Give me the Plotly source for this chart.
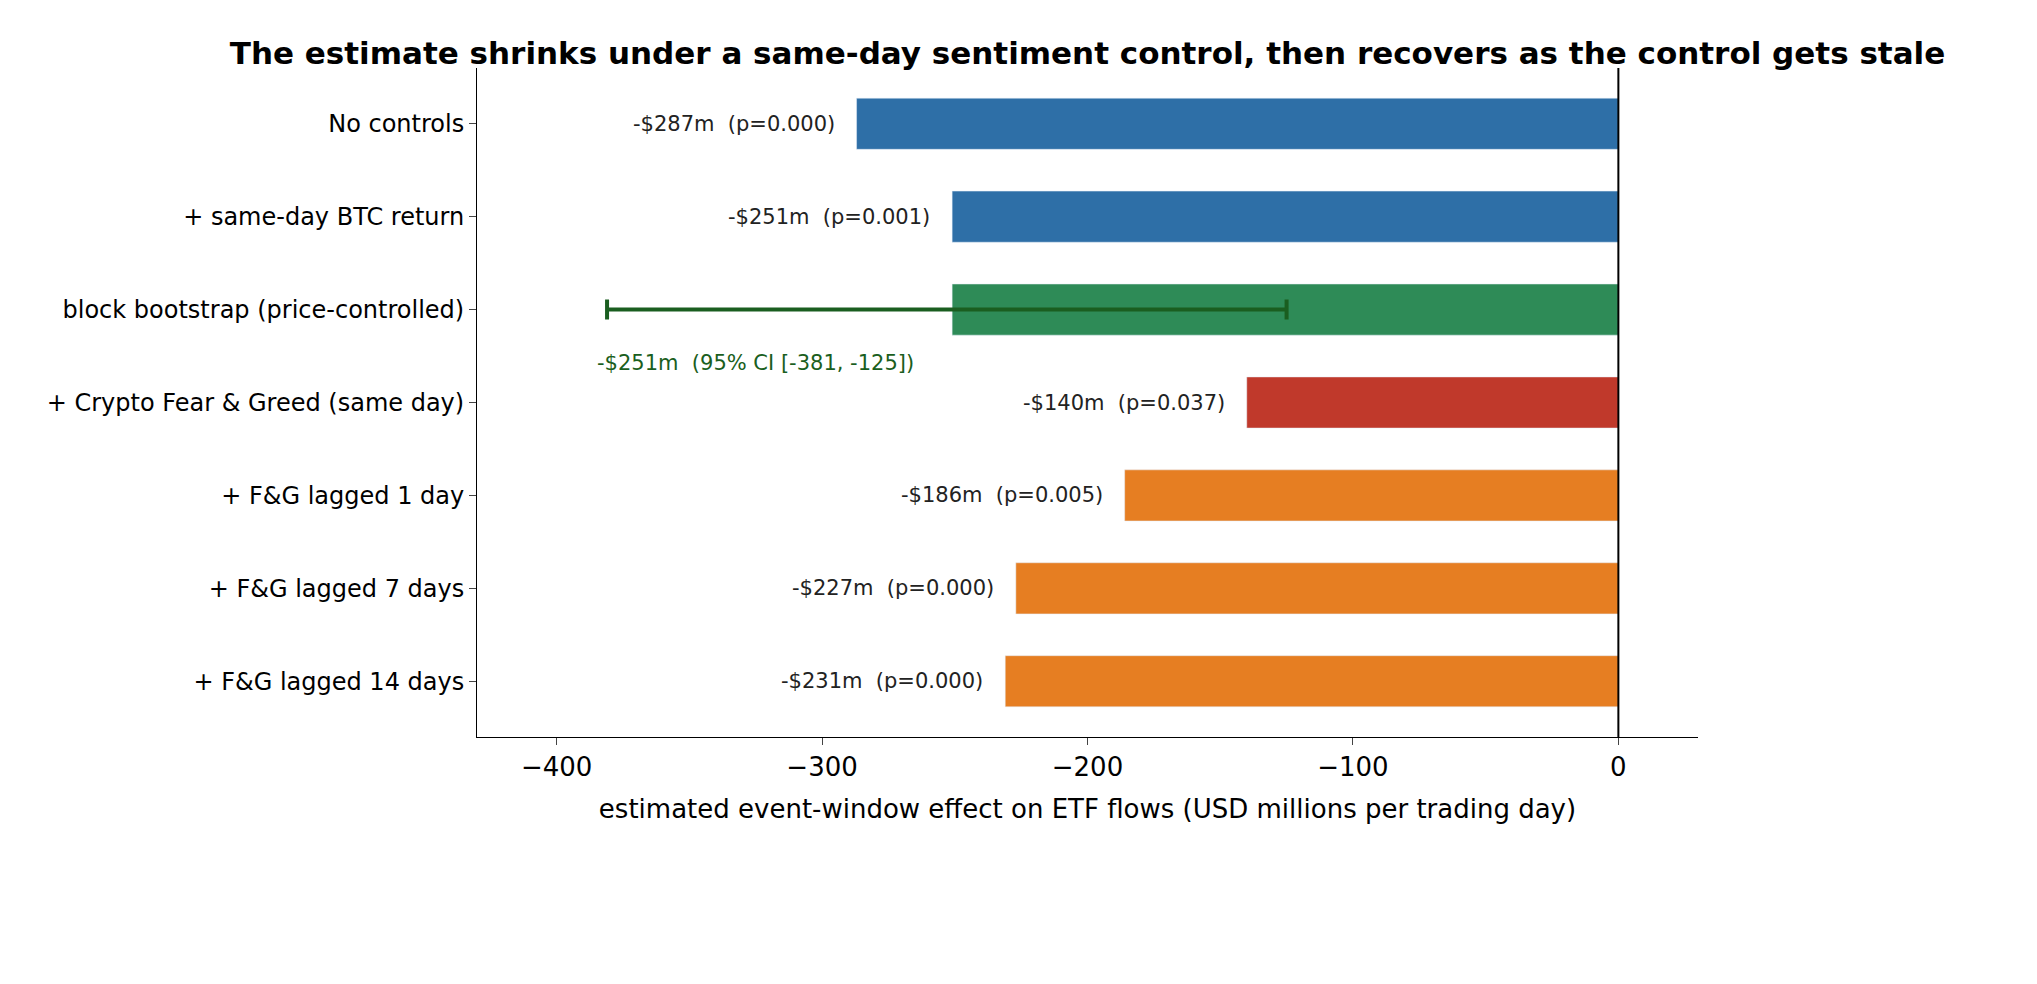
import plotly.graph_objects as go

specs = ["No controls", "+ same-day BTC return", "block bootstrap (price-controlled)",
         "+ Crypto Fear & Greed (same day)", "+ F&G lagged 1 day", "+ F&G lagged 7 days",
         "+ F&G lagged 14 days"]
effects = [-287, -251, -251, -140, -186, -227, -231]
pvals = ["0.000", "0.001", None, "0.037", "0.005", "0.000", "0.000"]
colors = ["#2e6fa7", "#2e6fa7", "#2e8b57", "#c0392b", "#e67e22", "#e67e22", "#e67e22"]
ci_low, ci_high = -381, -125
boot_idx = 2

ypos = list(range(len(specs)))
fig = go.Figure()
fig.add_trace(go.Bar(x=effects, y=ypos, orientation="h", marker_color=colors,
                     width=0.55, showlegend=False))
fig.add_trace(go.Scatter(x=[effects[boot_idx]], y=[boot_idx], mode="markers",
                         marker=dict(size=1, color="rgba(0,0,0,0)"),
                         error_x=dict(type="data", symmetric=False,
                                      array=[ci_high - effects[boot_idx]],
                                      arrayminus=[effects[boot_idx] - ci_low],
                                      color="#1a5e20", thickness=4, width=10),
                         showlegend=False))

ann = []
for i, (v, p) in enumerate(zip(effects, pvals)):
    if p is None:
        continue
    ann.append(dict(x=v, y=i, text=f"-${-v}m  (p={p})", showarrow=False,
                    xanchor="right", xshift=-20, font=dict(size=21, color="#222")))
ann.append(dict(x=(ci_low + ci_high) / 2 - 72, y=boot_idx + 0.57,
                text=f"-${-effects[boot_idx]}m  (95% CI [{ci_low}, {ci_high}])",
                showarrow=False, font=dict(size=21, color="#1a5e20")))
ann.append(dict(xref="paper", yref="paper", x=0.485, y=-0.42, yanchor="top",
                text="Each bar is the event-window coefficient under a different specification. The contemporaneous Fear & Greed control (red) absorbs part of<br>the effect, but F&G itself embeds price, volatility and momentum, so this is a diagnostic, not a causal mediation test. p-values are naive<br>OLS/bootstrap diagnostics, descriptive only.",
                showarrow=False, font=dict(size=20, color="#444")))

fig.update_layout(
    width=2037, height=984, plot_bgcolor="white", paper_bgcolor="white",
    font=dict(family="DejaVu Sans", color="black"),
    margin=dict(l=469, r=2037 - 1690, t=60, b=984 - 729),
    title=dict(text="<b>The estimate shrinks under a same-day sentiment control, then recovers as the control gets stale</b>",
               x=(469 + 1690) / 2 / 2037, xanchor="center", y=0.965, font=dict(size=31)),
    annotations=ann,
    shapes=[dict(type="line", xref="x", yref="paper", x0=0, x1=0, y0=0, y1=1,
                 line=dict(color="black", width=2))],
    xaxis=dict(range=[-430, 30], tickvals=[-400, -300, -200, -100, 0], showgrid=False,
               zeroline=False, showline=True, linecolor="black", ticks="outside",
               ticklen=7, tickfont=dict(size=26),
               title=dict(text="estimated event-window effect on ETF flows (USD millions per trading day)",
                          font=dict(size=26), standoff=18)),
    yaxis=dict(range=[6.6, -0.6], tickvals=ypos, ticktext=specs, showgrid=False,
               zeroline=False, showline=True, linecolor="black", ticks="outside",
               ticklen=7, tickfont=dict(size=24)),
)
fig.write_html("out.html")
